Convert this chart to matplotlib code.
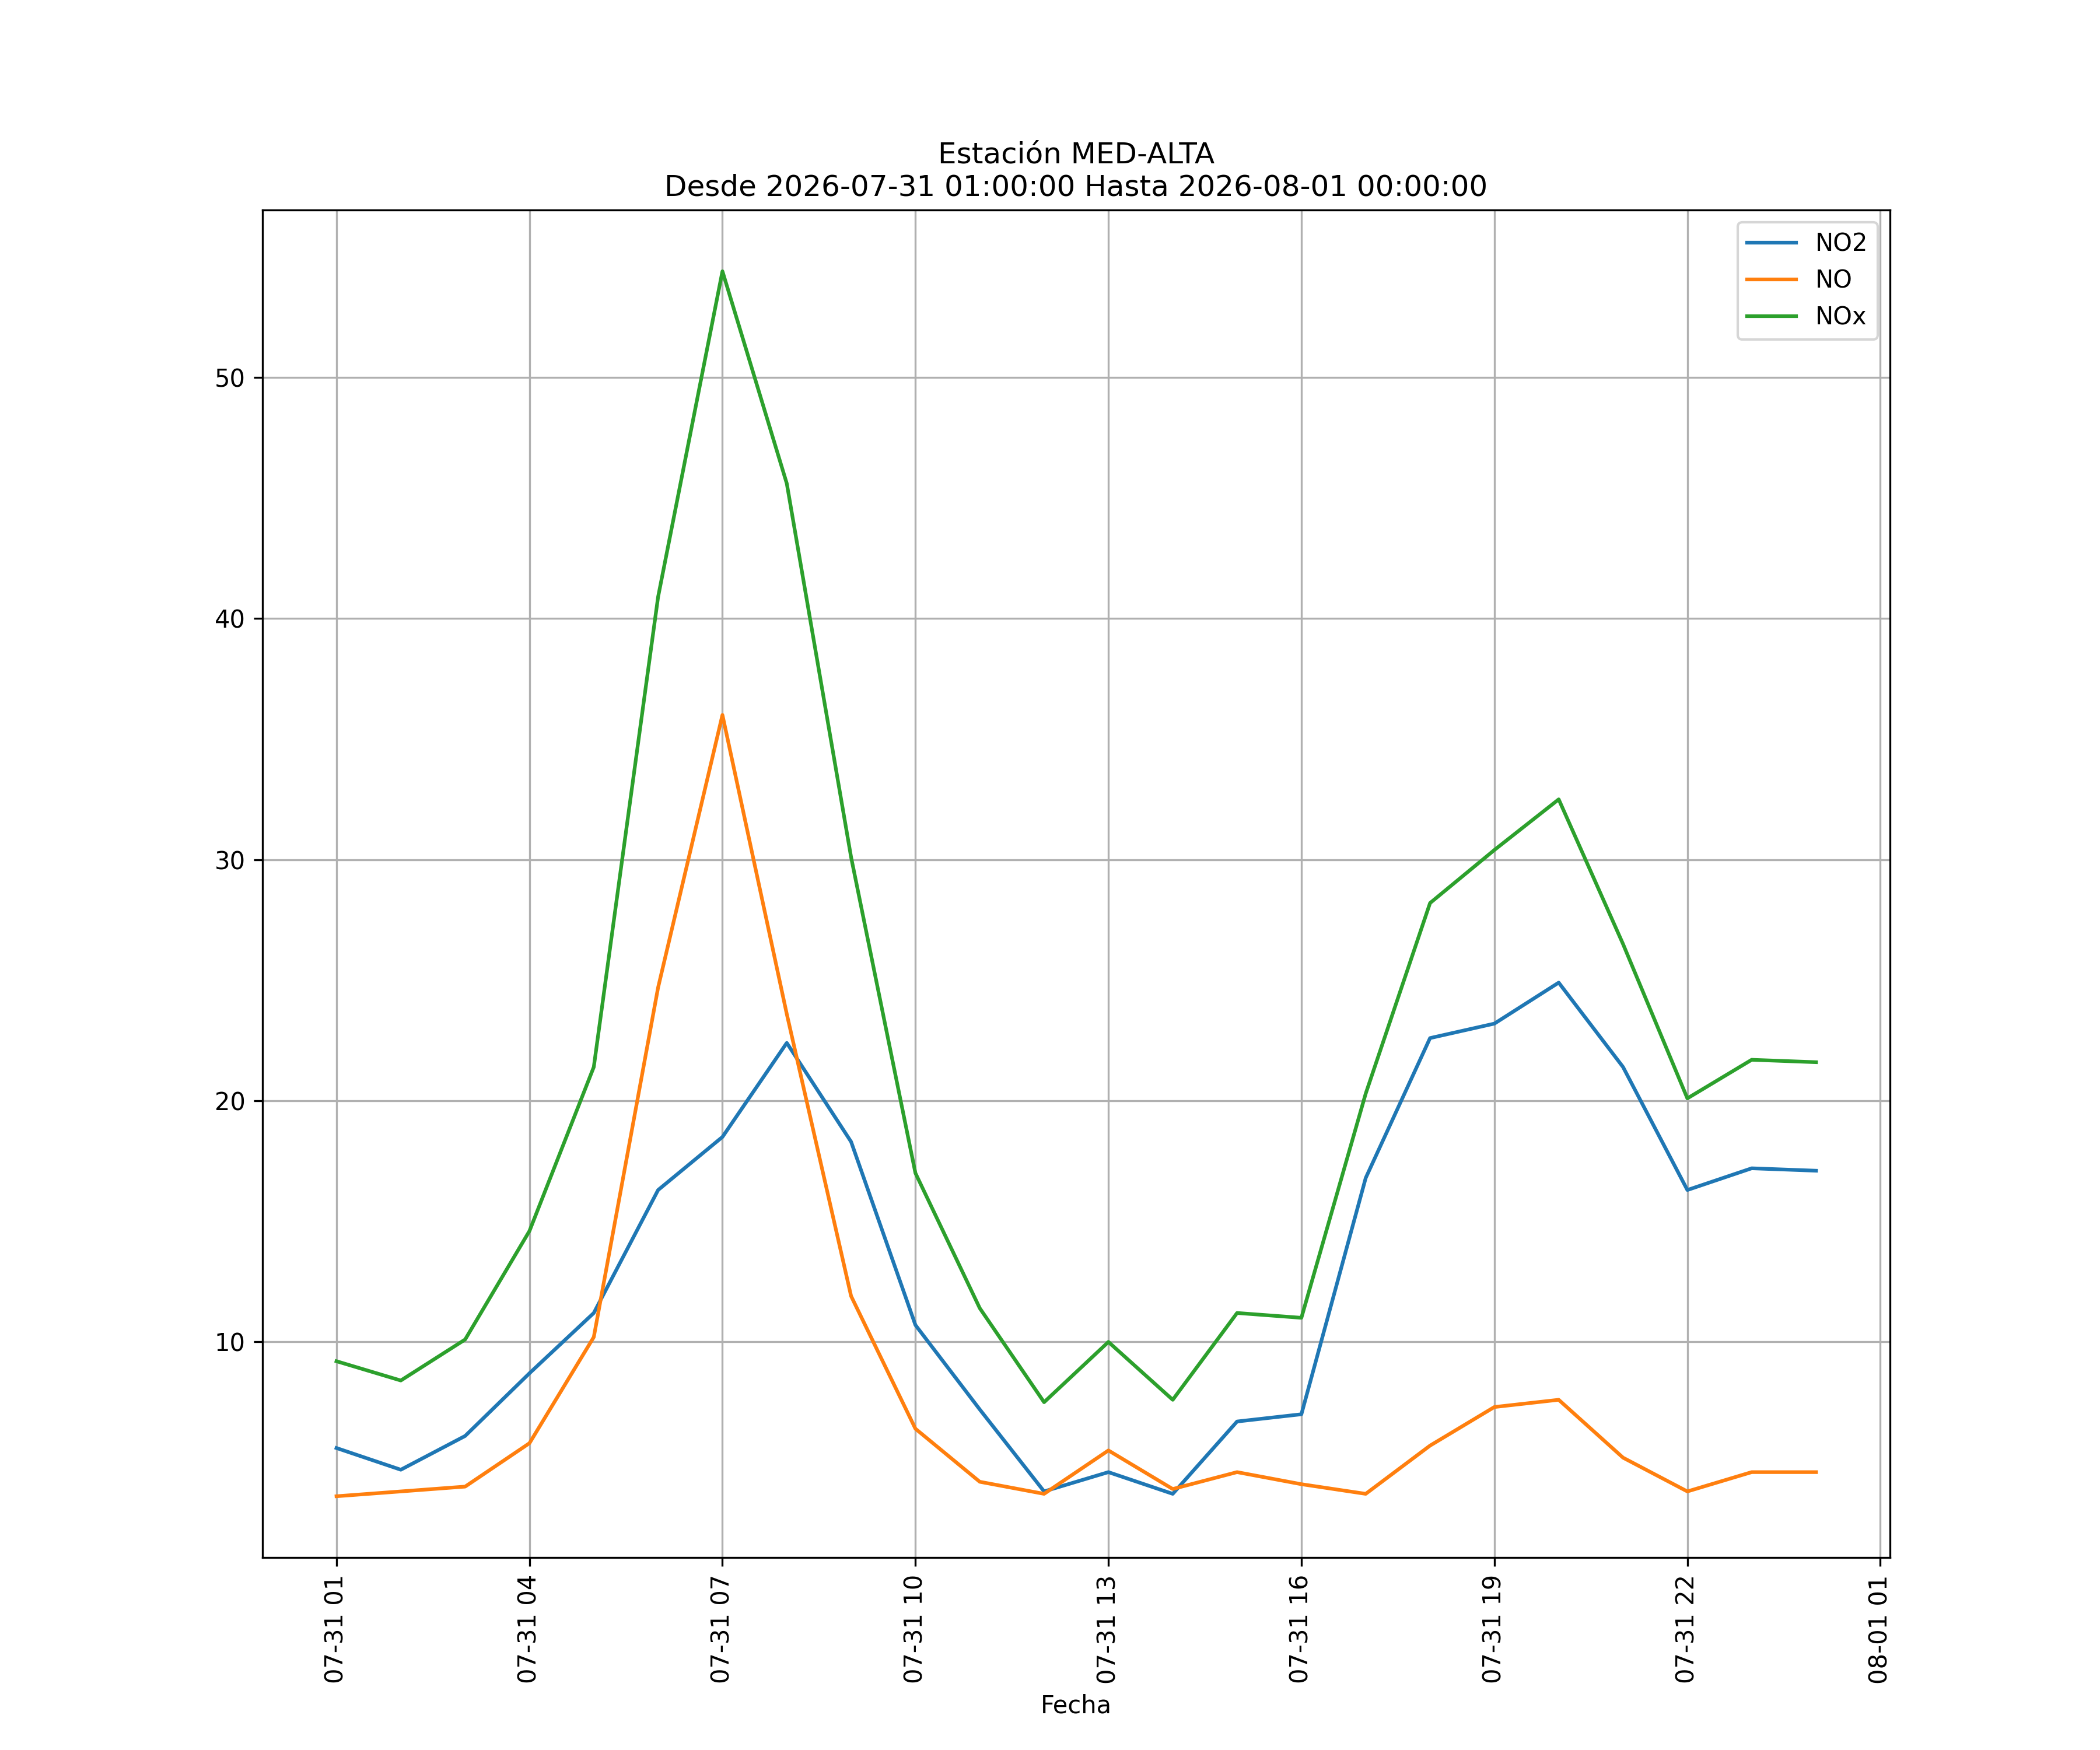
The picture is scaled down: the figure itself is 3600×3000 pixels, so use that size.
import matplotlib
matplotlib.use("Agg")
import matplotlib.pyplot as plt
import matplotlib.dates as mdates
import pandas as pd

fechas = pd.date_range("2026-07-31 01:00:00", "2026-08-01 00:00:00", freq="h")

no2 = [5.6, 4.7, 6.1, 8.7, 11.2, 16.3, 18.5, 22.4, 18.3, 10.7, 7.2, 3.8,
       4.6, 3.7, 6.7, 7.0, 16.8, 22.6, 23.2, 24.9, 21.4, 16.3, 17.2, 17.1]
no = [3.6, 3.8, 4.0, 5.8, 10.2, 24.7, 36.0, 23.6, 11.9, 6.4, 4.2, 3.7,
      5.5, 3.9, 4.6, 4.1, 3.7, 5.7, 7.3, 7.6, 5.2, 3.8, 4.6, 4.6]
nox = [9.2, 8.4, 10.1, 14.6, 21.4, 40.9, 54.4, 45.6, 30.1, 17.0, 11.4, 7.5,
       10.0, 7.6, 11.2, 11.0, 20.3, 28.2, 30.4, 32.5, 26.5, 20.1, 21.7, 21.6]

fig, ax = plt.subplots(figsize=(12, 10))
ax.plot(fechas, no2, label="NO2")
ax.plot(fechas, no, label="NO")
ax.plot(fechas, nox, label="NOx")

ax.xaxis.set_major_locator(mdates.HourLocator(byhour=range(1, 24, 3)))
ax.xaxis.set_major_formatter(mdates.DateFormatter("%m-%d %H"))
plt.setp(ax.get_xticklabels(), rotation=90)
ax.set_xlabel("Fecha")
ax.set_title("Estación MED-ALTA\nDesde 2026-07-31 01:00:00 Hasta 2026-08-01 00:00:00")
ax.grid(True)
ax.legend(loc="upper right")

fig.savefig("out.png", dpi=300)
